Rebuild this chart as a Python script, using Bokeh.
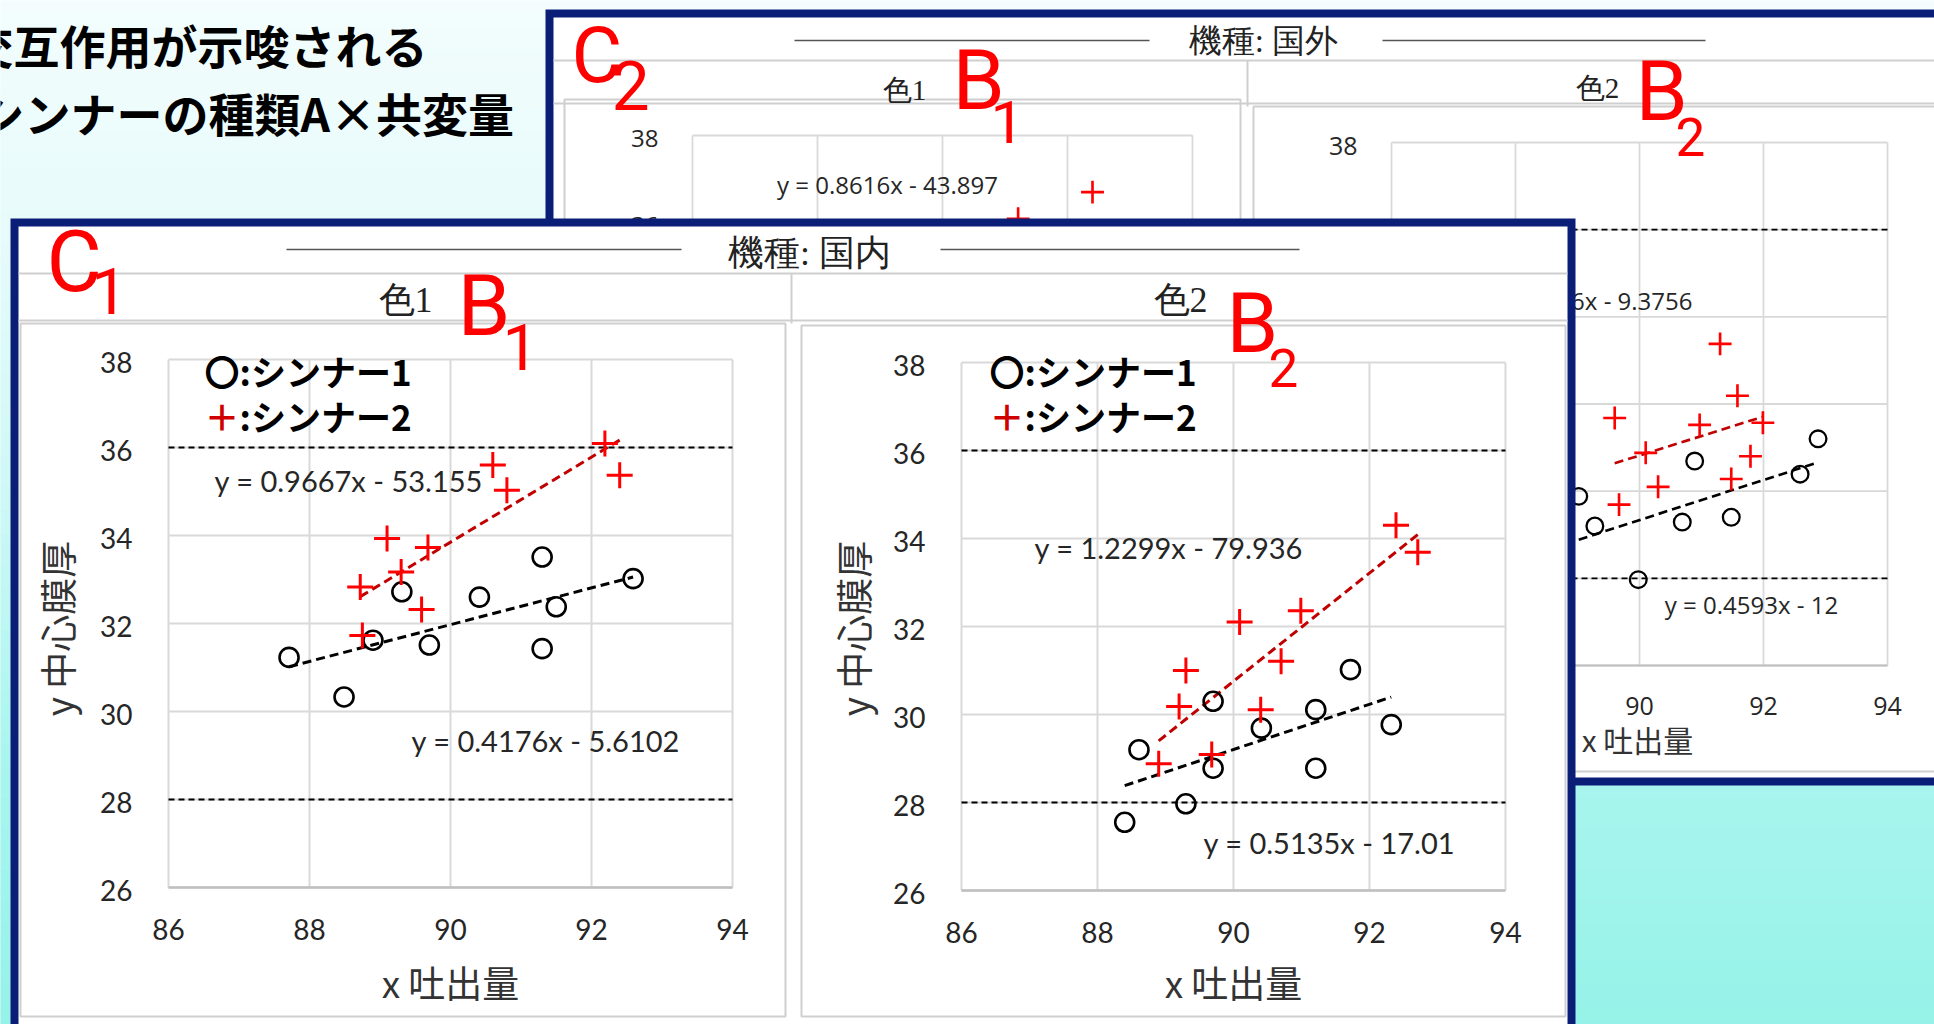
import numpy as np
from bokeh.plotting import figure
from bokeh.models import Range1d
from bokeh.core.properties import value
from bokeh.embed import file_html
from bokeh.resources import INLINE

# ---------------- data ----------------
x_ticks = [86, 88, 90, 92, 94]
y_ticks = [26, 28, 30, 32, 34, 36, 38]
x_tick_labels = ["86", "88", "90", "92", "94"]
y_tick_labels = ["26", "28", "30", "32", "34", "36", "38"]
spec_limits = [28, 36]

title_lines = ["交互作用が示唆される", "シンナーの種類A×共変量"]
legend_labels = [":シンナー1", ":シンナー2"]
machine_labels = ["機種: 国内", "機種: 国外"]
color_labels = ["色1", "色2"]
x_title = "x 吐出量"
y_title = "y 中心膜厚"

# 機種: 国内 / 色1
dom1_thinner1_x = [87.71, 88.49, 88.90, 89.31, 89.70, 90.41, 91.30, 91.30, 91.50, 92.59]
dom1_thinner1_y = [31.23, 30.33, 31.62, 32.72, 31.51, 32.60, 33.51, 31.43, 32.38, 33.02]
dom1_thinner2_x = [88.72, 88.75, 89.10, 89.30, 89.59, 89.68, 90.60, 90.80, 92.19, 92.40]
dom1_thinner2_y = [32.83, 31.73, 33.93, 33.17, 32.32, 33.73, 35.60, 35.03, 36.09, 35.37]
dom1_fit_slope = [0.4176, 0.9667]
dom1_fit_intercept = [-5.6102, -53.155]
dom1_eq_labels = ["y = 0.4176x - 5.6102", "y = 0.9667x - 53.155"]

# 機種: 国内 / 色2
dom2_thinner1_x = [88.40, 88.61, 89.30, 89.70, 89.70, 90.41, 91.21, 91.21, 91.72, 92.32]
dom2_thinner1_y = [27.55, 29.20, 27.97, 30.30, 28.78, 29.69, 30.11, 28.78, 31.02, 29.77]
dom2_thinner2_x = [88.90, 89.20, 89.30, 89.68, 90.09, 90.40, 90.70, 90.99, 92.39, 92.71]
dom2_thinner2_y = [28.88, 30.18, 31.00, 29.09, 32.10, 30.11, 31.21, 32.36, 34.30, 33.69]
dom2_fit_slope = [0.5135, 1.2299]
dom2_fit_intercept = [-17.01, -79.936]
dom2_eq_labels = ["y = 0.5135x - 17.01", "y = 1.2299x - 79.936"]

# 機種: 国外 / 色1 (mostly hidden behind the front panel)
ovs1_thinner1_x = []
ovs1_thinner1_y = []
ovs1_thinner2_x = [91.21, 92.40]
ovs1_thinner2_y = [36.09, 36.70]
ovs1_eq_labels = ["", "y = 0.8616x - 43.897"]

# 機種: 国外 / 色2 (partly hidden)
ovs2_thinner1_x = [89.02, 89.28, 89.98, 90.69, 90.89, 91.48, 92.59, 92.88]
ovs2_thinner1_y = [29.88, 29.20, 27.97, 29.29, 30.69, 29.40, 30.39, 31.20]
ovs2_thinner2_x = [89.60, 89.67, 90.10, 90.30, 90.97, 91.30, 91.48, 91.58, 91.79, 91.99]
ovs2_thinner2_y = [31.68, 29.69, 30.88, 30.10, 31.52, 33.38, 30.28, 32.19, 30.80, 31.57]
ovs2_fit_slope = [0.4593, 0.4466]
ovs2_fit_intercept = [-12.0, -9.3756]
ovs2_eq_labels = ["y = 0.4593x - 12", "y = 0.4466x - 9.3756"]

# ---------------- styling ----------------
NAVY = "#0a1e78"
GRID = "#d9d9d9"
SEP = "#cfcfcf"
RED = "#ff0000"
DARKRED = "#c00000"
CJK = "Noto Sans CJK JP"
NUM = "Lato"
NUM_B = "Open Sans"
SERIF = "Liberation Serif"
MARK = "Roboto"

W, H = 1934, 1024
p = figure(width=W, height=H, x_range=Range1d(0, W), y_range=Range1d(H, 0),
           output_backend="svg", toolbar_location=None,
           x_axis_type=None, y_axis_type=None, min_border=0,
           outline_line_color=None, border_fill_color="white",
           background_fill_color="white")


def box(l, r, t, b, fill=None, line=None, lw=1.0):
    p.quad(left=[l], right=[r], top=[t], bottom=[b], fill_color=fill,
           line_color=line, line_width=lw)


def hline(x0, x1, y, color=SEP, lw=2.0):
    p.segment(x0=[x0], y0=[y], x1=[x1], y1=[y], line_color=color, line_width=lw)


def vline(x, y0, y1, color=SEP, lw=2.0):
    p.segment(x0=[x], y0=[y0], x1=[x], y1=[y1], line_color=color, line_width=lw)


def txt(x, y, s, size, color="#000000", font=CJK, align="left", baseline="middle",
        style="normal", angle=0.0):
    p.text(x=[x], y=[y], text=[s], text_font=value(font), text_font_size=f"{size}px",
           text_color=color, text_align=align, text_baseline=baseline,
           text_font_style=style, angle=angle)


# ---------------- slide background ----------------
stops_y = [0, 220, 500, 780, 1024]
stops_c = [(243, 253, 253), (232, 251, 251), (205, 248, 246), (168, 245, 238), (150, 242, 232)]
band = 6
tops = np.arange(0, 1030, band)
cols = []
for t in tops:
    c = [int(round(np.interp(t + band / 2, stops_y, [s[k] for s in stops_c]))) for k in range(3)]
    cols.append("#%02x%02x%02x" % tuple(c))
p.quad(left=0, right=1940, top=tops, bottom=tops + band, fill_color=cols, line_color=cols,
       line_width=1)

txt(-33, 43, title_lines[0], 46, style="bold")
txt(-22, 111, title_lines[1], 46, style="bold")

# ---------------- sub-plot ranges ----------------
extra_x, extra_y = {}, {}


def panel_ranges(name, X0, X1, Y0, Y1):
    xa, xb = x_ticks[0], x_ticks[-1]
    ya, yb = y_ticks[0], y_ticks[-1]
    u = (xb - xa) / (X1 - X0)
    v = (yb - ya) / (Y1 - Y0)
    extra_x[name] = Range1d(xa - X0 * u, xb + (W - X1) * u)
    extra_y[name] = Range1d(ya - (H - Y1) * v, yb + Y0 * v)


panel_ranges("dom1", 168, 732, 359, 887)
panel_ranges("dom2", 961, 1505, 362, 890)
panel_ranges("ovs1", 692, 1192, 135, 658)
panel_ranges("ovs2", 1391, 1887, 142, 665)
p.extra_x_ranges = extra_x
p.extra_y_ranges = extra_y


def scatter_panel(rn, s1x, s1y, s2x, s2y, slopes, intercepts, k, tick_font, tick_size,
                  xlab_off, ylab_off):
    R = dict(x_range_name=rn, y_range_name=rn)
    xa, xb = x_ticks[0], x_ticks[-1]
    ya, yb = y_ticks[0], y_ticks[-1]
    n, m = len(x_ticks), len(y_ticks)
    p.segment(x0=x_ticks, y0=[ya] * n, x1=x_ticks, y1=[yb] * n, line_color=GRID,
              line_width=2 * k, **R)
    p.segment(x0=[xa] * m, y0=y_ticks, x1=[xb] * m, y1=y_ticks, line_color=GRID,
              line_width=2 * k, **R)
    p.segment(x0=[xa], y0=[ya], x1=[xb], y1=[ya], line_color="#bfbfbf", line_width=2.5 * k, **R)
    p.segment(x0=[xa] * 2, y0=spec_limits, x1=[xb] * 2, y1=spec_limits, line_color="#000000",
              line_width=2 * k, line_dash="6 4", **R)
    for xs, a, b, col in ((s1x, slopes[0], intercepts[0], "#000000"),
                          (s2x, slopes[1], intercepts[1], DARKRED)):
        if a is None or len(xs) < 2:
            continue
        x0, x1 = min(xs), max(xs)
        p.segment(x0=[x0], y0=[a * x0 + b], x1=[x1], y1=[a * x1 + b], line_color=col,
                  line_width=3 * k, line_dash="9 5", **R)
    if s1x:
        p.scatter(x=s1x, y=s1y, marker="circle", size=19 * k, fill_color=None,
                  line_color="#000000", line_width=2.6 * k, **R)
    if s2x:
        p.scatter(x=s2x, y=s2y, marker="cross", size=26 * k, line_color=RED,
                  line_width=3 * k, **R)
    p.text(x=x_ticks, y=[ya] * n, text=x_tick_labels, text_font=value(tick_font),
           text_font_size=f"{tick_size}px", text_color="#262626", text_align="center",
           text_baseline="middle", y_offset=xlab_off, **R)
    p.text(x=[xa] * m, y=y_ticks, text=y_tick_labels, text_font=value(tick_font),
           text_font_size=f"{tick_size}px", text_color="#262626", text_align="right",
           text_baseline="middle", x_offset=-ylab_off, y_offset=3, **R)


# ---------------- back panel: 機種 国外 ----------------
box(545, 1960, 9, 785, fill=NAVY)
box(553, 1960, 17, 777, fill="white")
hline(553, 1960, 60)
hline(553, 1960, 103)
vline(1247, 60, 106)
box(564, 1240, 99, 771, line=SEP, lw=2)
box(1253, 1960, 106, 771, line=SEP, lw=2)
p.segment(x0=[794, 1382], y0=[40, 40], x1=[1149, 1705], y1=[40, 40], line_color="#555555",
          line_width=1.5)
txt(1263, 40, machine_labels[1], 33, color="#222222", font=SERIF, align="center")
txt(904, 89, color_labels[0], 29, color="#222222", font=SERIF, align="center")
txt(1597, 87, color_labels[1], 29, color="#222222", font=SERIF, align="center")

scatter_panel("ovs1", ovs1_thinner1_x, ovs1_thinner1_y, ovs1_thinner2_x, ovs1_thinner2_y,
              [None, None], [None, None], 0.88, NUM_B, 24, 40, 34)
scatter_panel("ovs2", ovs2_thinner1_x, ovs2_thinner1_y, ovs2_thinner2_x, ovs2_thinner2_y,
              ovs2_fit_slope, ovs2_fit_intercept, 0.88, NUM_B, 25, 40, 34)
txt(887, 184, ovs1_eq_labels[1], 24, color="#262626", font=NUM_B, align="center")
txt(1751, 604, ovs2_eq_labels[0], 24, color="#262626", font=NUM_B, align="center")
txt(1692, 300, ovs2_eq_labels[1], 24, color="#262626", font=NUM_B, align="right")
txt(1637, 738, x_title, 30, color="#333333", align="center")

txt(571, 55, "C", 78, color=RED, font=MARK)
txt(611, 85, "2", 68, color=RED, font=MARK)
txt(952, 80, "B", 84, color=RED, font=MARK)
txt(990, 121, "1", 60, color=RED, font=MARK)
txt(1635, 91, "B", 84, color=RED, font=MARK)
txt(1675, 136, "2", 53, color=RED, font=MARK)

# ---------------- front panel: 機種 国内 ----------------
box(10, 1575, 218, 1040, fill=NAVY)
box(18, 1567, 226, 1040, fill="white")
hline(18, 1567, 273)
hline(18, 1567, 320)
vline(791, 273, 323)
box(20, 785, 323, 1016, line=SEP, lw=2)
box(801, 1565, 325, 1016, line=SEP, lw=2)
p.segment(x0=[286, 940], y0=[249, 249], x1=[681, 1299], y1=[249, 249], line_color="#555555",
          line_width=1.5)
txt(809, 252, machine_labels[0], 36, color="#222222", font=SERIF, align="center")
txt(405, 299, color_labels[0], 36, color="#222222", font=SERIF, align="center")
txt(1180, 299, color_labels[1], 36, color="#222222", font=SERIF, align="center")

scatter_panel("dom1", dom1_thinner1_x, dom1_thinner1_y, dom1_thinner2_x, dom1_thinner2_y,
              dom1_fit_slope, dom1_fit_intercept, 1.0, NUM, 28, 42, 36)
scatter_panel("dom2", dom2_thinner1_x, dom2_thinner1_y, dom2_thinner2_x, dom2_thinner2_y,
              dom2_fit_slope, dom2_fit_intercept, 1.0, NUM, 28, 42, 36)

txt(214, 480, dom1_eq_labels[1], 29, color="#262626", font=NUM)
txt(411, 740, dom1_eq_labels[0], 29, color="#262626", font=NUM)
txt(1034, 547, dom2_eq_labels[1], 29, color="#262626", font=NUM)
txt(1203, 842, dom2_eq_labels[0], 29, color="#262626", font=NUM)

for lx in (204, 989):
    txt(lx, 370, "〇" + legend_labels[0], 35, style="bold")
    txt(lx, 415, "＋", 35, color="#d00000", style="bold")
    txt(lx + 35, 415, legend_labels[1], 35, style="bold")

txt(450, 981, x_title, 37, color="#333333", align="center")
txt(1233, 981, x_title, 37, color="#333333", align="center")
txt(56, 628, y_title, 37, color="#333333", align="center", angle=np.pi / 2)
txt(852, 628, y_title, 37, color="#333333", align="center", angle=np.pi / 2)

txt(46, 261, "C", 85, color=RED, font=MARK)
txt(91, 290, "1", 64, color=RED, font=MARK)
txt(457, 305, "B", 85, color=RED, font=MARK)
txt(502, 346, "1", 64, color=RED, font=MARK)
txt(1226, 323, "B", 83, color=RED, font=MARK)
txt(1268, 367, "2", 53, color=RED, font=MARK)

open("out.html", "w").write(file_html(p, INLINE))
